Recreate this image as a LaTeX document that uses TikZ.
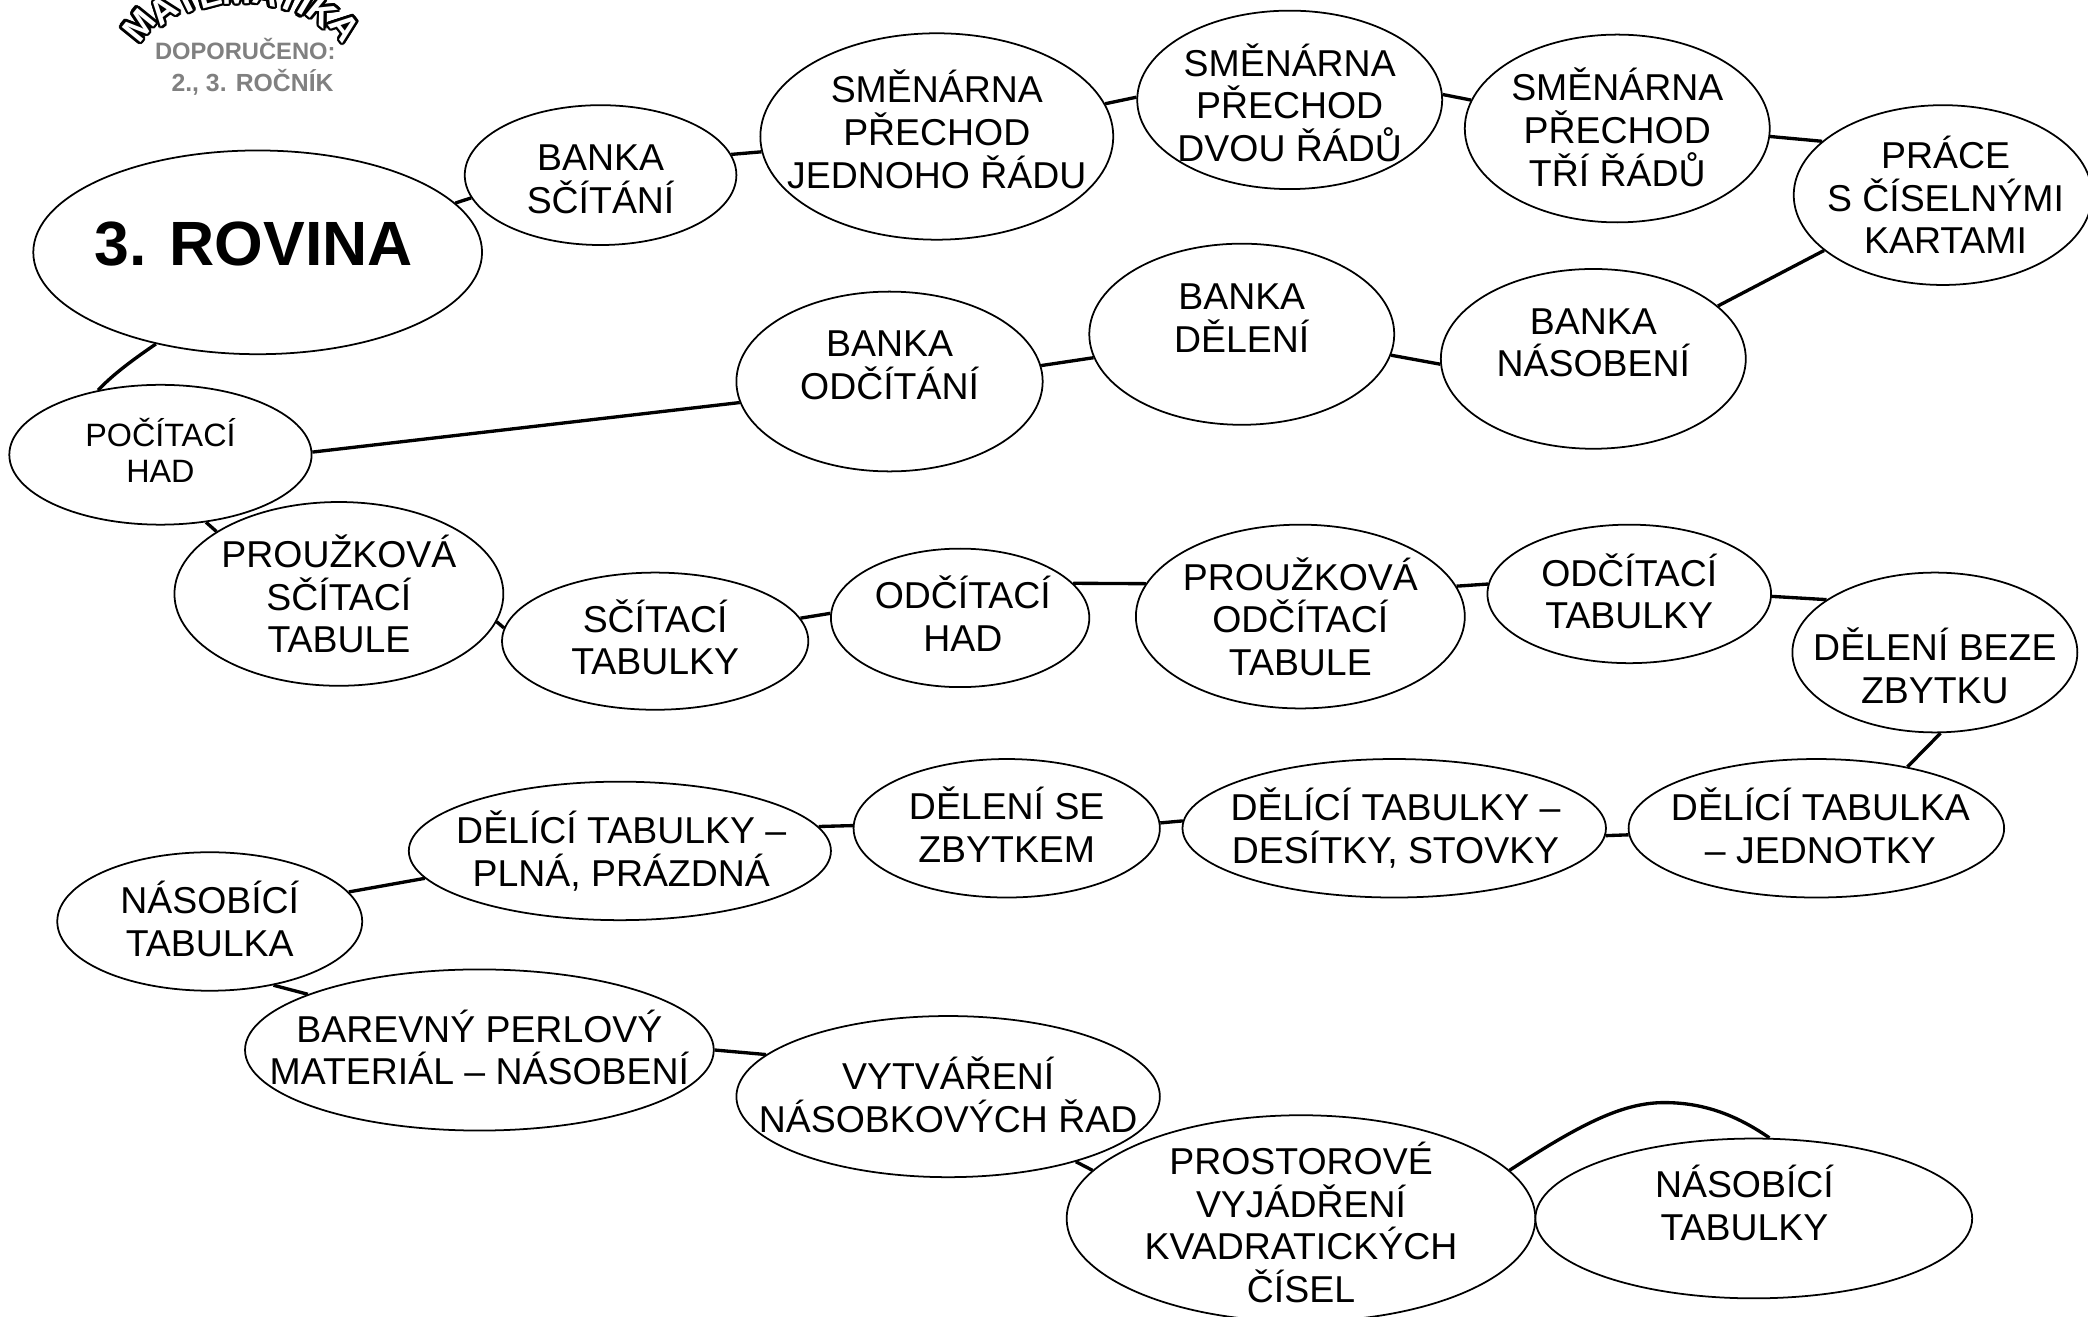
\documentclass[tikz,border=0pt]{standalone}
\usepackage{fontspec}
\setmainfont{Liberation Sans}
\usepackage{contour}
\usetikzlibrary{shapes.geometric}
\contourlength{0.7pt}
\tikzset{
    oval/.style 2 args={ellipse, draw, fill=white, line width=0.5pt, inner sep=0pt,
        minimum width=#1*0.013316cm, minimum height=#2*0.013316cm},
    every label/.style={align=center, inner sep=0pt, font=\fontsize{10.65}{12.15}\selectfont},
    lift/.style={yshift=#1*0.013316cm},
    slide/.style={xshift=#1*0.013316cm},
    link/.style={line width=0.95pt},
    year/.style={font=\fontsize{6.75}{8}\bfseries\selectfont, text=gray, inner sep=0pt},
    logo/.style={font=\fontsize{10}{11}\bfseries\selectfont, inner sep=0pt}
}
\begin{document}
\begin{tikzpicture}[x=0.013316cm, y=-0.013316cm]
    \useasboundingbox (0,0) rectangle (1568,989);
    % logo
    \foreach \letter/\ang [count=\i] in {M/-36.4,A/-26.9,T/-18.6,E/-10.6,M/-1.4,A/8.3,T/16.6,I/22,K/28.2,A/37.2}
        \node[logo, rotate=-1.4*\ang] (logo\i) at ({181+128*sin(\ang)},{122.5-128*cos(\ang)}) {\contour{black}{\textcolor{white}{\letter}}};
    \node[year, anchor=east] (doporuceno) at (252.5,37) {DOPORUČENO:};
    \node[year, anchor=east, font=\fontsize{7.05}{8}\bfseries\selectfont] (rocnik) at (251,62) {2., 3. ROČNÍK};
    % first row
    \node[oval={337}{153}, label={[lift=6, slide=-3, font=\fontsize{17.8}{20}\bfseries\selectfont]center:3. ROVINA}] (rovina) at (193.5,189.5) {};
    \node[oval={204}{105}, label={[lift=-3]center:BANKA\\SČÍTÁNÍ}] (bankaS) at (451,131.5) {};
    \node[oval={265}{155}, label={[lift=5.5]center:SMĚNÁRNA\\PŘECHOD\\JEDNOHO ŘÁDU}] (smenA) at (703.5,102.5) {};
    \node[oval={229}{134}, label={[lift=-2]center:SMĚNÁRNA\\PŘECHOD\\DVOU ŘÁDŮ}] (smenB) at (968.5,75) {};
    \node[oval={229}{141}, label={[lift=1]center:SMĚNÁRNA\\PŘECHOD\\TŘÍ ŘÁDŮ}] (smenC) at (1214.5,96.5) {};
    \node[oval={224}{135}, label={[slide=2]center:PRÁCE\\S ČÍSELNÝMI\\KARTAMI}] (prace) at (1459,146.5) {};
    % second row
    \node[oval={229}{135}, label={[lift=12]center:BANKA\\NÁSOBENÍ}] (bankaN) at (1196.5,269.5) {};
    \node[oval={229}{136}, label={[lift=12]center:BANKA\\DĚLENÍ}] (bankaD) at (932.5,251) {};
    \node[oval={230}{135}, label={[lift=12]center:BANKA\\ODČÍTÁNÍ}] (bankaO) at (668,286.5) {};
    \node[oval={227}{105}, label={[lift=3.5, font=\fontsize{9.2}{10.2}\selectfont]center:POČÍTACÍ\\HAD}] (pocitaci) at (120.5,341.5) {};
    % third row
    \node[oval={247}{138}, label={center:PROUŽKOVÁ\\SČÍTACÍ\\TABULE}] (prouzS) at (254.5,446) {};
    \node[oval={230}{103}, label={[lift=3]center:SČÍTACÍ\\TABULKY}] (scitT) at (492,481.5) {};
    \node[oval={194}{104}, label={[lift=3, slide=2]center:ODČÍTACÍ\\HAD}] (odcH) at (721,464) {};
    \node[oval={247}{138}, label={center:PROUŽKOVÁ\\ODČÍTACÍ\\TABULE}] (prouzO) at (976.5,463) {};
    \node[oval={213}{104}, label={[lift=2]center:ODČÍTACÍ\\TABULKY}] (odcT) at (1223.5,446) {};
    \node[oval={214}{120}, label={[lift=-10]center:DĚLENÍ BEZE\\ZBYTKU}] (delB) at (1453,490) {};
    % fourth row
    \node[oval={282}{104}, label={[lift=2, slide=3]center:DĚLÍCÍ TABULKA\\– JEDNOTKY}] (delJ) at (1364,622) {};
    \node[oval={318}{104}, label={[slide=1]center:{DĚLÍCÍ TABULKY –\\DESÍTKY, STOVKY}}] (delD) at (1047,622) {};
    \node[oval={230}{104}, label={[lift=2.5]center:DĚLENÍ SE\\ZBYTKEM}] (delZ) at (756,622) {};
    \node[oval={317}{104}, label={[slide=1]center:{DĚLÍCÍ TABULKY –\\PLNÁ, PRÁZDNÁ}}] (delP) at (465.5,639) {};
    \node[oval={229}{104}, label={[lift=2]center:NÁSOBÍCÍ\\TABULKA}] (nasT) at (157.5,692) {};
    % last row
    \node[oval={352}{121}, label={[lift=2]center:BAREVNÝ PERLOVÝ\\MATERIÁL – NÁSOBENÍ}] (perly) at (360,788.5) {};
    \node[oval={318}{121}, label={[lift=1.5]center:VYTVÁŘENÍ\\NÁSOBKOVÝCH ŘAD}] (vytv) at (712,823.5) {};
    \node[oval={352}{155}, label={[lift=-3]center:PROSTOROVÉ\\VYJÁDŘENÍ\\KVADRATICKÝCH\\ČÍSEL}] (prost) at (977,915) {};
    \node[oval={328}{120}, label={[lift=11.5, slide=-7]center:NÁSOBÍCÍ\\TABULKY}] (nasK) at (1317,915) {};
    % connectors
    \draw[link] (rovina.14) -- (bankaS.190);
    \draw[link] (bankaS.9) -- (smenA.185);
    \draw[link] (smenA.11) -- (smenB.179);
    \draw[link] (smenB.2) -- (smenC.169);
    \draw[link] (smenC.-3) -- (prace.156);
    \draw[link] (prace.205) -- (bankaN.23);
    \draw[link] (bankaN.182) -- (bankaD.-8);
    \draw[link] (bankaD.189) -- (bankaO.6);
    \draw[link] (bankaO.188) -- (pocitaci.1);
    \draw[link] (rovina.222) .. controls (100,270) and (85,281) .. (pocitaci.134);
    \draw[link] (pocitaci.-56) -- (prouzS.153);
    \draw[link] (prouzS.-10) -- (scitT.175);
    \draw[link] (scitT.9) -- (odcH.178);
    \draw[link] (odcH.17) -- (prouzO.168);
    \draw[link] (prouzO.11) -- (odcT.176);
    \draw[link] (odcT.-1) -- (delB.154);
    \draw[link] (delB.-86) -- (delJ.34);
    \draw[link] (delJ.182) -- (delD.-2);
    \draw[link] (delD.178) -- (delZ.2);
    \draw[link] (delZ.179) -- (delP.7);
    \draw[link] (delP.188) -- (nasT.12);
    \draw[link] (nasT.-45) -- (perly.162);
    \draw[link] (perly.0) -- (vytv.167);
    \draw[link] (vytv.-27) -- (prost.167);
    \draw[link] (prost.13) .. controls (1190,842) and (1220,828) .. (1250,828) .. controls (1280,828) and (1305,838) .. (nasK.79);
\end{tikzpicture}
\end{document}
